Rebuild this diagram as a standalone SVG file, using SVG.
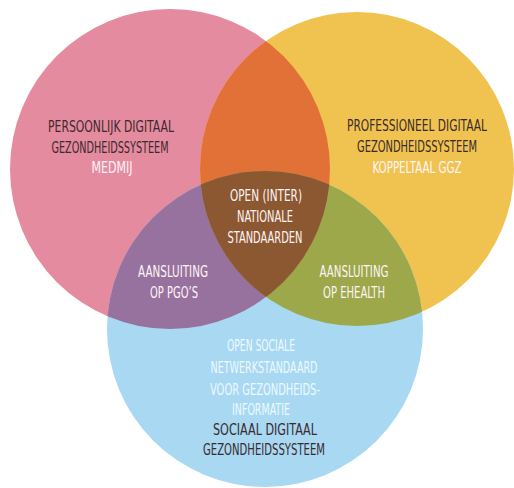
<svg xmlns="http://www.w3.org/2000/svg" width="514" height="488" viewBox="0 0 514 488">
  <defs>
    <clipPath id="cPink"><circle cx="170" cy="169" r="160"/></clipPath>
    <clipPath id="cYellow"><circle cx="357" cy="169" r="157"/></clipPath>
    <style>
      text { font-family: "DejaVu Sans Condensed", "DejaVu Sans", "Liberation Sans", sans-serif; font-size: 16px; text-anchor: middle; }
      .dark { fill: #3b2a2e; }
      .light { fill: #fff4f6; }
      .lightB { fill: #eef8fd; }
    </style>
  </defs>
  <rect width="514" height="488" fill="#ffffff"/>

  <g id="circle-persoonlijk">
    <circle cx="170" cy="169" r="160" fill="#e58b9f"/>
  </g>
  <g id="circle-professioneel">
    <circle cx="357" cy="169" r="157" fill="#f0c350"/>
  </g>
  <g id="circle-sociaal">
    <circle cx="265" cy="329" r="158" fill="#a8d8f2"/>
  </g>

  <g id="overlap-pink-yellow">
    <circle cx="357" cy="169" r="157" fill="#e27138" clip-path="url(#cPink)"/>
  </g>
  <g id="overlap-pink-blue">
    <circle cx="265" cy="329" r="158" fill="#98729f" clip-path="url(#cPink)"/>
  </g>
  <g id="overlap-yellow-blue">
    <circle cx="265" cy="329" r="158" fill="#9ca84a" clip-path="url(#cYellow)"/>
  </g>
  <g id="overlap-all">
    <g clip-path="url(#cYellow)">
      <circle cx="265" cy="329" r="158" fill="#8c5831" clip-path="url(#cPink)"/>
    </g>
  </g>

  <g id="label-persoonlijk" transform="scale(0.8 1)">
    <text class="dark" x="138.75" y="132" textLength="157.5" lengthAdjust="spacingAndGlyphs">PERSOONLIJK DIGITAAL</text>
    <text class="dark" x="137.5" y="153" textLength="146.25" lengthAdjust="spacingAndGlyphs">GEZONDHEIDSSYSTEEM</text>
    <text class="light" x="140" y="173" textLength="51.25" lengthAdjust="spacingAndGlyphs">MEDMIJ</text>
  </g>
  <g id="label-professioneel" transform="scale(0.8 1)">
    <text class="dark" x="521.25" y="131" textLength="175" lengthAdjust="spacingAndGlyphs">PROFESSIONEEL DIGITAAL</text>
    <text class="dark" x="521.25" y="152" textLength="150" lengthAdjust="spacingAndGlyphs">GEZONDHEIDSSYSTEEM</text>
    <text class="light" x="521.25" y="173" textLength="111.25" lengthAdjust="spacingAndGlyphs">KOPPELTAAL GGZ</text>
  </g>
  <g id="label-standaarden" transform="scale(0.8 1)">
    <text class="light" x="332.5" y="201" textLength="90" lengthAdjust="spacingAndGlyphs">OPEN (INTER)</text>
    <text class="light" x="331.25" y="222" textLength="70" lengthAdjust="spacingAndGlyphs">NATIONALE</text>
    <text class="light" x="331.25" y="243" textLength="93.75" lengthAdjust="spacingAndGlyphs">STANDAARDEN</text>
  </g>
  <g id="label-pgo" transform="scale(0.8 1)">
    <text class="light" x="216.25" y="277" textLength="87.5" lengthAdjust="spacingAndGlyphs">AANSLUITING</text>
    <text class="light" x="217.5" y="298" textLength="60" lengthAdjust="spacingAndGlyphs">OP PGO’S</text>
  </g>
  <g id="label-ehealth" transform="scale(0.8 1)">
    <text class="light" x="442.5" y="277" textLength="86.25" lengthAdjust="spacingAndGlyphs">AANSLUITING</text>
    <text class="light" x="442.5" y="298" textLength="77.5" lengthAdjust="spacingAndGlyphs">OP EHEALTH</text>
  </g>
  <g id="label-sociaal" transform="scale(0.8 1)">
    <text class="lightB" x="326.25" y="351" textLength="85" lengthAdjust="spacingAndGlyphs">OPEN SOCIALE</text>
    <text class="lightB" x="330" y="373" textLength="133.75" lengthAdjust="spacingAndGlyphs">NETWERKSTANDAARD</text>
    <text class="lightB" x="331.25" y="395" textLength="137.5" lengthAdjust="spacingAndGlyphs">VOOR GEZONDHEIDS-</text>
    <text class="lightB" x="326.25" y="415" textLength="72.5" lengthAdjust="spacingAndGlyphs">INFORMATIE</text>
    <text class="dark" x="331.25" y="435" textLength="130" lengthAdjust="spacingAndGlyphs">SOCIAAL DIGITAAL</text>
    <text class="dark" x="330" y="455" textLength="152.5" lengthAdjust="spacingAndGlyphs">GEZONDHEIDSSYSTEEM</text>
  </g>
</svg>
